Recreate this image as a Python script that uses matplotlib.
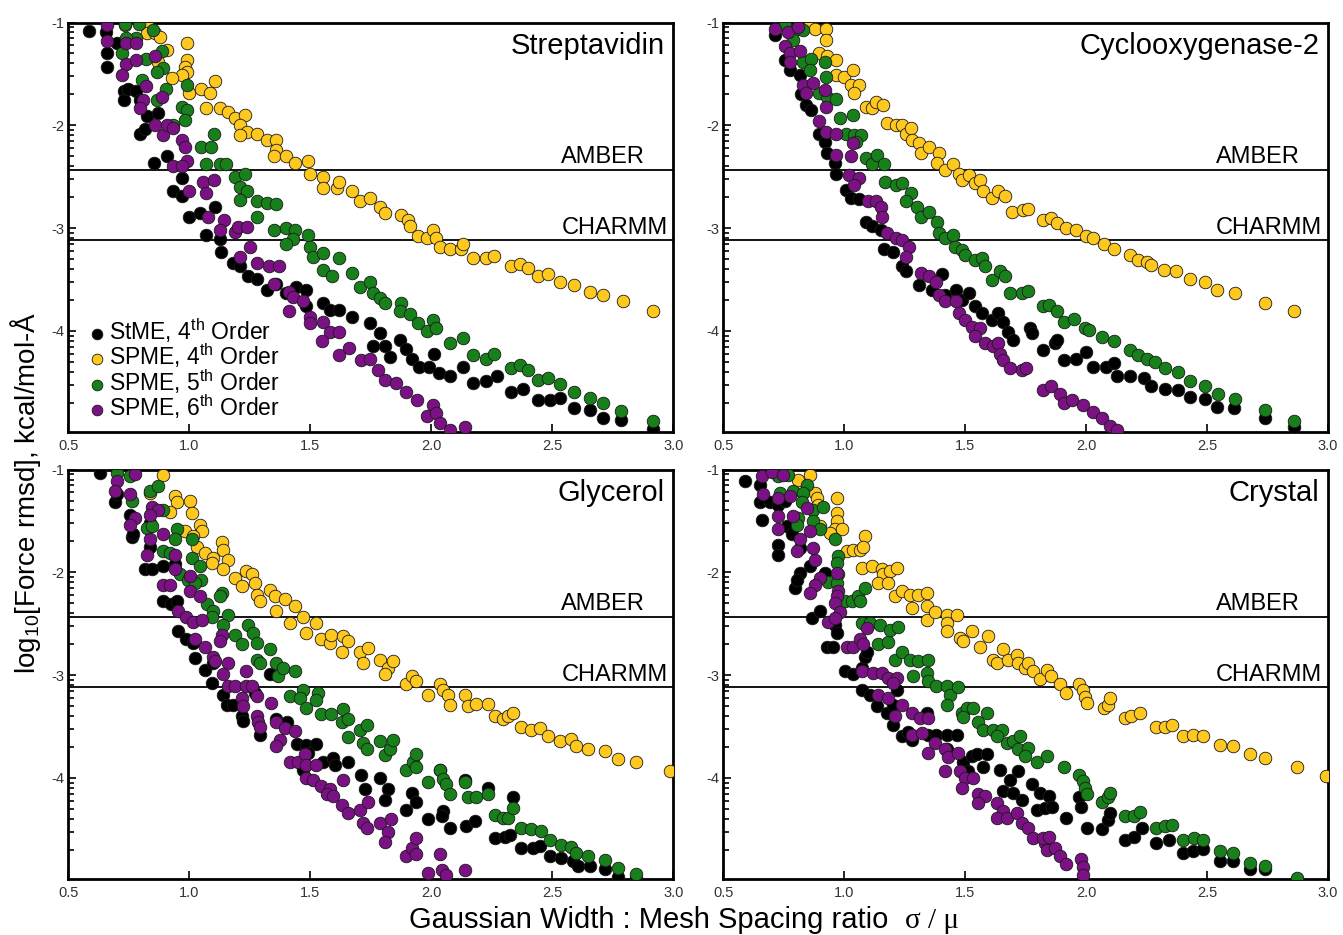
import numpy as np
import matplotlib
matplotlib.use('Agg')
import matplotlib.pyplot as plt
from matplotlib.ticker import FixedLocator

# Force rmsd (log10) against sigma/mesh ratio, four systems, four methods

plt.rcParams['font.family'] = 'Liberation Sans'
plt.rcParams['mathtext.fontset'] = 'custom'
plt.rcParams['mathtext.rm'] = 'Liberation Sans'
plt.rcParams['mathtext.it'] = 'Liberation Sans:italic'
plt.rcParams['mathtext.bf'] = 'Liberation Sans:bold'

systems = ['Streptavidin', 'Cyclooxygenase-2', 'Glycerol', 'Crystal']
methods = [r'StME, 4$^{\rm th}$ Order', r'SPME, 4$^{\rm th}$ Order',
           r'SPME, 5$^{\rm th}$ Order', r'SPME, 6$^{\rm th}$ Order']
colors = ['#000000', '#FFC81E', '#17801A', '#7C1185']

# force field tolerances, log10 kcal/mol-A
amber_level = -2.43
charmm_level = -3.12

x_ticks = [0.5, 1.0, 1.5, 2.0, 2.5, 3.0]
y_ticks = [-1, -2, -3, -4]

# ---- Streptavidin ----
strep_stme = [(0.587,-1.078),(0.656,-1.088),(0.661,-1.30),(0.658,-1.43),(0.70,-1.20),(0.73,-1.67),(0.728,-1.75),
    (0.745,-1.65),(0.78,-1.67),(0.796,-1.75),(0.823,-1.91),(0.796,-2.08),(0.816,-2.04),(0.872,-1.88),(0.854,-2.37),
    (0.906,-2.30),(0.933,-2.64),(0.968,-2.51),(0.968,-2.69),(1.0,-2.89),(1.044,-2.85),(1.07,-3.07),(1.105,-2.79),
    (1.126,-3.11),(1.13,-3.23),(1.18,-3.34),(1.21,-3.37),(1.243,-3.47),(1.28,-3.49),(1.32,-3.60),(1.36,-3.54),
    (1.40,-3.63),(1.44,-3.57),(1.484,-3.60),(1.484,-3.76),(1.553,-3.73),(1.58,-3.80),(1.62,-3.80),(1.67,-3.86),
    (1.745,-3.92),(1.787,-4.02),(1.76,-4.15),(1.81,-4.15),(1.83,-4.25),(1.87,-4.09),(1.897,-4.18),(1.92,-4.27),
    (1.95,-4.35),(1.99,-4.35),(2.01,-4.22),(2.03,-4.41),(2.076,-4.44),(2.13,-4.35),(2.17,-4.51),(2.227,-4.49),
    (2.27,-4.44),(2.33,-4.59),(2.38,-4.56),(2.44,-4.67),(2.49,-4.67),(2.53,-4.65),(2.59,-4.75),(2.654,-4.77),
    (2.71,-4.85),(2.785,-4.87),(2.915,-4.95)]
strep_spme4 = [(0.734,-1.02),(0.823,-1.02),(0.823,-1.10),(0.858,-1.10),(0.88,-1.14),(0.906,-1.27),(0.872,-1.38),
    (0.99,-1.20),(0.99,-1.36),(0.98,-1.43),(0.99,-1.48),(0.968,-1.51),(0.93,-1.54),(1.0,-1.69),(1.05,-1.65),
    (1.085,-1.69),(1.107,-1.57),(1.07,-1.83),(1.125,-1.83),(1.16,-1.87),(1.19,-1.93),(1.23,-1.90),(1.21,-2.00),
    (1.237,-2.06),(1.21,-2.09),(1.28,-2.08),(1.32,-2.14),(1.36,-2.14),(1.36,-2.24),(1.35,-2.30),(1.40,-2.30),
    (1.436,-2.37),(1.49,-2.35),(1.50,-2.47),(1.553,-2.50),(1.553,-2.61),(1.61,-2.61),(1.62,-2.55),(1.67,-2.64),
    (1.704,-2.74),(1.745,-2.71),(1.787,-2.79),(1.81,-2.85),(1.876,-2.87),(1.904,-2.92),(1.91,-2.98),(1.945,-3.08),
    (1.98,-3.10),(2.007,-3.02),(2.02,-3.10),(2.034,-3.18),(2.076,-3.20),(2.124,-3.20),(2.13,-3.15),(2.17,-3.29),
    (2.227,-3.29),(2.26,-3.27),(2.33,-3.37),(2.365,-3.35),(2.40,-3.39),(2.44,-3.47),(2.48,-3.45),(2.53,-3.52),
    (2.59,-3.55),(2.654,-3.62),(2.71,-3.65),(2.79,-3.71),(2.915,-3.81)]
strep_spme5 = [(0.734,-1.01),(0.79,-1.01),(0.85,-1.07),(0.78,-1.15),(0.74,-1.15),(0.72,-1.30),(0.82,-1.35),
    (0.886,-1.28),(0.89,-1.44),(0.865,-1.48),(0.803,-1.56),(0.905,-1.65),(0.865,-1.75),(0.99,-1.61),(0.97,-1.82),
    (0.99,-1.85),(0.983,-1.95),(0.934,-2.00),(1.10,-2.08),(1.05,-2.21),(1.09,-2.21),(1.07,-2.38),(1.126,-2.38),
    (1.15,-2.38),(1.19,-2.50),(1.23,-2.47),(1.21,-2.60),(1.24,-2.64),(1.21,-2.73),(1.28,-2.74),(1.32,-2.76),
    (1.36,-2.77),(1.28,-2.89),(1.35,-3.02),(1.40,-3.00),(1.436,-3.02),(1.49,-3.07),(1.50,-3.18),(1.43,-3.11),
    (1.40,-3.15),(1.51,-3.28),(1.553,-3.24),(1.553,-3.41),(1.59,-3.47),(1.62,-3.29),(1.67,-3.44),(1.704,-3.57),
    (1.745,-3.52),(1.76,-3.63),(1.787,-3.68),(1.81,-3.73),(1.876,-3.73),(1.87,-3.81),(1.91,-3.84),(1.945,-3.92),
    (1.98,-4.00),(2.007,-3.89),(2.02,-3.97),(2.076,-4.12),(2.13,-4.07),(2.17,-4.23),(2.227,-4.27),(2.26,-4.22),
    (2.33,-4.36),(2.365,-4.33),(2.40,-4.38),(2.44,-4.48),(2.48,-4.46),(2.53,-4.52),(2.59,-4.59),(2.654,-4.65),
    (2.71,-4.70),(2.785,-4.78),(2.915,-4.88)]
strep_spme6 = [(0.658,-1.02),(0.658,-1.18),(0.74,-1.20),(0.78,-1.20),(0.74,-1.40),(0.78,-1.36),(0.857,-1.33),
    (0.72,-1.51),(0.82,-1.62),(0.81,-1.75),(0.796,-1.83),(0.885,-1.72),(0.857,-2.00),(0.89,-2.09),(0.906,-2.00),
    (0.934,-2.03),(0.968,-2.14),(0.983,-2.21),(0.99,-2.35),(0.934,-2.40),(0.968,-2.40),(1.056,-2.55),(1.10,-2.53),
    (1.07,-2.66),(1.0,-2.64),(1.077,-2.89),(1.145,-2.92),(1.125,-3.02),(1.19,-3.04),(1.20,-2.99),(1.237,-2.99),
    (1.25,-3.18),(1.21,-3.28),(1.28,-3.34),(1.33,-3.37),(1.37,-3.37),(1.35,-3.54),(1.41,-3.62),(1.43,-3.67),
    (1.41,-3.81),(1.47,-3.71),(1.50,-3.86),(1.50,-3.92),(1.553,-3.91),(1.58,-4.01),(1.55,-4.10),(1.62,-4.01),
    (1.66,-4.17),(1.62,-4.23),(1.71,-4.28),(1.745,-4.27),(1.78,-4.38),(1.81,-4.48),(1.855,-4.51),(1.897,-4.59),
    (1.94,-4.67),(1.98,-4.83),(2.007,-4.72),(2.02,-4.80),(2.034,-4.90),(2.076,-4.96),(2.138,-4.93)]

# ---- Cyclooxygenase-2 ----
cox_stme = [(0.712,-1.12),(0.753,-1.36),(0.774,-1.46),(0.815,-1.51),(0.82,-1.70),(0.842,-1.80),(0.863,-1.85),
    (0.897,-2.08),(0.918,-2.16),(0.93,-2.27),(0.96,-2.37),(0.966,-2.47),(1.007,-2.63),(1.027,-2.71),(1.06,-2.72),
    (1.09,-2.94),(1.116,-2.98),(1.15,-3.02),(1.164,-3.20),(1.20,-3.23),(1.24,-3.37),(1.253,-3.42),(1.308,-3.55),
    (1.363,-3.60),(1.404,-3.45),(1.418,-3.65),(1.46,-3.60),(1.486,-3.70),(1.514,-3.63),(1.54,-3.76),(1.568,-3.83),
    (1.61,-3.89),(1.637,-3.83),(1.658,-3.91),(1.678,-4.01),(1.698,-4.09),(1.767,-3.97),(1.776,-4.02),(1.82,-4.19),
    (1.87,-4.12),(1.88,-4.09),(1.907,-4.28),(1.96,-4.27),(2.0,-4.20),(2.03,-4.35),(2.08,-4.35),(2.117,-4.31),
    (2.126,-4.44),(2.18,-4.44),(2.24,-4.46),(2.27,-4.54),(2.327,-4.56),(2.38,-4.57),(2.43,-4.64),(2.49,-4.66),
    (2.54,-4.74),(2.61,-4.75),(2.74,-4.85),(2.86,-4.93)]
cox_spme4 = [(0.856,-1.02),(0.877,-1.06),(0.925,-1.06),(0.925,-1.17),(0.897,-1.30),(0.93,-1.33),(0.966,-1.36),
    (0.966,-1.51),(1.0,-1.53),(1.034,-1.46),(1.027,-1.61),(1.06,-1.61),(1.04,-1.69),(1.09,-1.82),(1.116,-1.83),
    (1.13,-1.77),(1.158,-1.80),(1.178,-1.98),(1.212,-2.00),(1.24,-2.00),(1.253,-2.08),(1.274,-2.03),(1.28,-2.14),
    (1.308,-2.17),(1.315,-2.27),(1.35,-2.21),(1.39,-2.27),(1.384,-2.37),(1.418,-2.43),(1.45,-2.38),(1.473,-2.47),
    (1.486,-2.53),(1.514,-2.48),(1.54,-2.56),(1.56,-2.53),(1.575,-2.64),(1.61,-2.71),(1.637,-2.64),(1.664,-2.69),
    (1.692,-2.84),(1.74,-2.82),(1.76,-2.81),(1.82,-2.92),(1.855,-2.90),(1.88,-2.95),(1.916,-3.00),(1.96,-3.02),
    (2.0,-3.08),(2.03,-3.10),(2.073,-3.15),(2.117,-3.20),(2.18,-3.26),(2.213,-3.31),(2.25,-3.33),(2.27,-3.36),
    (2.32,-3.41),(2.37,-3.42),(2.43,-3.49),(2.49,-3.52),(2.54,-3.60),(2.615,-3.63),(2.74,-3.73),(2.86,-3.81)]
cox_spme5 = [(0.753,-1.02),(0.795,-1.07),(0.83,-1.07),(0.788,-1.17),(0.83,-1.38),(0.863,-1.35),(0.856,-1.46),
    (0.918,-1.38),(0.925,-1.53),(0.897,-1.69),(0.93,-1.72),(0.966,-1.74),(1.034,-1.90),(0.98,-1.93),(1.007,-2.08),
    (1.04,-2.09),(1.068,-2.09),(1.048,-2.16),(1.09,-2.32),(1.116,-2.38),(1.137,-2.29),(1.164,-2.38),(1.17,-2.55),
    (1.212,-2.58),(1.24,-2.56),(1.274,-2.66),(1.253,-2.74),(1.30,-2.79),(1.315,-2.89),(1.35,-2.84),(1.384,-2.94),
    (1.39,-3.05),(1.418,-3.10),(1.45,-3.07),(1.459,-3.18),(1.486,-3.21),(1.50,-3.26),(1.54,-3.31),(1.568,-3.29),
    (1.582,-3.37),(1.61,-3.50),(1.644,-3.42),(1.664,-3.47),(1.685,-3.63),(1.733,-3.63),(1.76,-3.61),(1.82,-3.76),
    (1.846,-3.75),(1.88,-3.81),(1.907,-3.91),(1.95,-3.88),(1.995,-3.97),(2.01,-3.99),(2.065,-4.06),(2.117,-4.10),
    (2.18,-4.19),(2.213,-4.23),(2.25,-4.27),(2.283,-4.30),(2.327,-4.36),(2.38,-4.40),(2.43,-4.49),(2.49,-4.54),
    (2.545,-4.61),(2.615,-4.66),(2.74,-4.77),(2.86,-4.88)]
cox_spme6 = [(0.712,-1.06),(0.767,-1.09),(0.808,-1.04),(0.753,-1.23),(0.774,-1.30),(0.774,-1.38),(0.815,-1.28),
    (0.83,-1.61),(0.87,-1.59),(0.842,-1.69),(0.918,-1.66),(0.925,-1.82),(0.897,-1.96),(0.925,-2.06),(0.966,-2.08),
    (1.034,-2.17),(1.027,-2.30),(0.966,-2.29),(1.02,-2.48),(1.06,-2.51),(1.04,-2.58),(1.096,-2.74),(1.13,-2.74),
    (1.15,-2.79),(1.157,-2.89),(1.178,-3.05),(1.212,-3.10),(1.24,-3.12),(1.267,-3.18),(1.253,-3.28),(1.315,-3.44),
    (1.35,-3.47),(1.377,-3.52),(1.39,-3.65),(1.418,-3.71),(1.46,-3.71),(1.473,-3.83),(1.50,-3.89),(1.527,-3.96),
    (1.56,-3.97),(1.54,-4.05),(1.582,-4.12),(1.616,-4.15),(1.637,-4.12),(1.644,-4.22),(1.658,-4.28),(1.685,-4.36),
    (1.733,-4.38),(1.753,-4.36),(1.82,-4.57),(1.855,-4.54),(1.89,-4.61),(1.907,-4.70),(1.94,-4.67),(1.985,-4.72),
    (2.03,-4.79),(2.065,-4.85),(2.10,-4.92),(2.126,-4.96)]

# ---- Glycerol ----
gly_stme = [(0.631,-1.03),(0.693,-1.32),(0.70,-1.24),(0.755,-1.44),(0.761,-1.66),(0.768,-1.63),(0.837,-1.52),
    (0.837,-1.75),(0.816,-1.97),(0.844,-1.97),(0.892,-1.94),(0.94,-1.92),(0.892,-2.28),(0.926,-2.31),(0.947,-2.28),
    (0.954,-2.57),(0.988,-2.65),(1.016,-2.69),(1.023,-2.83),(1.064,-2.95),(1.099,-2.88),(1.092,-3.08),(1.14,-3.19),
    (1.154,-3.29),(1.181,-3.29),(1.216,-3.40),(1.222,-3.45),(1.27,-3.17),(1.29,-3.58),(1.333,-2.99),(1.36,-3.43),
    (1.402,-3.46),(1.443,-3.67),(1.484,-3.68),(1.525,-3.67),(1.49,-3.76),(1.47,-3.92),(1.553,-3.84),(1.594,-3.81),
    (1.601,-3.87),(1.656,-3.84),(1.711,-3.97),(1.725,-4.11),(1.787,-4.00),(1.821,-4.11),(1.807,-4.21),(1.897,-4.31),
    (1.918,-4.15),(1.938,-4.23),(1.987,-4.40),(2.035,-3.92),(2.048,-4.32),(2.042,-4.37),(2.076,-4.49),(2.138,-4.02),
    (2.145,-4.47),(2.18,-4.42),(2.234,-4.10),(2.262,-4.58),(2.303,-4.57),(2.324,-4.55),(2.337,-4.19),(2.372,-4.68),
    (2.42,-4.68),(2.448,-4.66),(2.489,-4.76),(2.537,-4.78),(2.585,-4.81),(2.606,-4.86),(2.654,-4.86),(2.716,-4.89),
    (2.771,-4.96),(2.847,-4.97)]
gly_spme4 = [(0.892,-1.05),(0.837,-1.23),(0.94,-1.26),(0.947,-1.32),(1.002,-1.31),(1.009,-1.42),(0.92,-1.41),
    (1.044,-1.54),(1.051,-1.60),(0.982,-1.60),(1.016,-1.65),(1.03,-1.75),(1.064,-1.81),(1.099,-1.86),(1.092,-1.91),
    (1.133,-1.70),(1.14,-1.78),(1.16,-1.88),(1.14,-1.97),(1.188,-2.05),(1.216,-2.13),(1.236,-1.99),(1.257,-2.02),
    (1.27,-2.10),(1.278,-2.22),(1.291,-2.28),(1.333,-2.17),(1.353,-2.23),(1.395,-2.26),(1.436,-2.33),(1.36,-2.38),
    (1.415,-2.49),(1.47,-2.43),(1.484,-2.59),(1.525,-2.49),(1.546,-2.65),(1.58,-2.69),(1.587,-2.61),(1.636,-2.62),
    (1.656,-2.67),(1.629,-2.77),(1.704,-2.77),(1.739,-2.74),(1.718,-2.88),(1.787,-2.85),(1.821,-2.93),(1.807,-2.99),
    (1.842,-2.86),(1.897,-3.09),(1.918,-3.01),(1.938,-3.06),(1.987,-3.19),(2.035,-3.09),(2.048,-3.14),(2.069,-3.19),
    (2.076,-3.29),(2.138,-3.19),(2.152,-3.30),(2.186,-3.28),(2.234,-3.28),(2.262,-3.40),(2.296,-3.43),(2.317,-3.40),
    (2.337,-3.37),(2.372,-3.50),(2.413,-3.53),(2.448,-3.51),(2.482,-3.59),(2.53,-3.64),(2.578,-3.62),(2.599,-3.69),
    (2.647,-3.72),(2.716,-3.74),(2.771,-3.82),(2.847,-3.84),(2.984,-3.93)]
gly_spme5 = [(0.70,-1.03),(0.755,-1.06),(0.837,-1.21),(0.872,-1.16),(0.761,-1.31),(0.892,-1.39),(0.823,-1.57),
    (0.844,-1.55),(0.947,-1.58),(0.94,-1.68),(0.892,-1.79),(0.92,-1.81),(1.009,-1.68),(1.009,-1.86),(1.044,-1.94),
    (0.96,-2.02),(0.995,-2.07),(1.05,-2.07),(1.023,-2.10),(1.071,-2.31),(1.099,-2.38),(1.092,-2.43),(1.133,-2.20),
    (1.126,-2.23),(1.16,-2.41),(1.14,-2.51),(1.188,-2.61),(1.216,-2.70),(1.243,-2.51),(1.264,-2.59),(1.278,-2.69),
    (1.278,-2.85),(1.291,-2.88),(1.333,-2.75),(1.36,-2.88),(1.367,-3.01),(1.388,-2.93),(1.436,-2.96),(1.415,-3.20),
    (1.47,-3.14),(1.457,-3.22),(1.484,-3.32),(1.532,-3.17),(1.525,-3.24),(1.546,-3.38),(1.587,-3.38),(1.636,-3.33),
    (1.629,-3.46),(1.656,-3.43),(1.656,-3.60),(1.704,-3.53),(1.732,-3.48),(1.718,-3.66),(1.732,-3.72),(1.787,-3.64),
    (1.807,-3.78),(1.828,-3.72),(1.842,-3.63),(1.897,-3.92),(1.925,-3.84),(1.938,-3.77),(1.938,-3.89),(1.987,-4.04),
    (2.035,-3.92),(2.048,-4.01),(2.062,-4.06),(2.076,-4.16),(2.138,-4.04),(2.152,-4.19),(2.186,-4.19),(2.234,-4.16),
    (2.262,-4.36),(2.296,-4.39),(2.317,-4.39),(2.337,-4.29),(2.372,-4.49),(2.413,-4.50),(2.455,-4.52),(2.489,-4.60),
    (2.537,-4.65),(2.578,-4.67),(2.599,-4.73),(2.647,-4.76),(2.716,-4.80),(2.771,-4.88),(2.847,-4.93)]
gly_spme6 = [(0.775,-1.04),(0.70,-1.11),(0.693,-1.21),(0.755,-1.24),(0.775,-1.47),(0.755,-1.54),(0.844,-1.36),
    (0.872,-1.39),(0.837,-1.44),(0.837,-1.68),(0.892,-1.63),(0.823,-1.83),(0.94,-1.83),(0.94,-1.97),(1.002,-2.04),
    (0.892,-2.12),(0.92,-2.12),(1.002,-2.18),(1.044,-2.23),(0.954,-2.38),(0.988,-2.43),(1.016,-2.48),(1.051,-2.46),
    (1.023,-2.65),(1.064,-2.73),(1.133,-2.61),(1.126,-2.67),(1.099,-2.82),(1.106,-2.86),(1.16,-2.88),(1.14,-2.99),
    (1.16,-3.11),(1.188,-3.11),(1.236,-2.96),(1.236,-3.11),(1.257,-3.11),(1.216,-3.22),(1.222,-3.30),(1.278,-3.20),
    (1.278,-3.40),(1.284,-3.46),(1.291,-3.50),(1.339,-3.27),(1.36,-3.46),(1.395,-3.51),(1.436,-3.54),(1.374,-3.63),
    (1.36,-3.69),(1.415,-3.84),(1.449,-3.84),(1.477,-3.77),(1.484,-3.87),(1.525,-3.87),(1.484,-4.00),(1.512,-4.02),
    (1.546,-4.08),(1.58,-4.11),(1.567,-4.16),(1.636,-4.02),(1.594,-4.18),(1.629,-4.26),(1.656,-4.34),(1.704,-4.31),
    (1.739,-4.23),(1.718,-4.44),(1.732,-4.49),(1.787,-4.44),(1.835,-4.40),(1.821,-4.53),(1.807,-4.62),(1.897,-4.76),
    (1.918,-4.68),(1.938,-4.58),(1.938,-4.74),(1.987,-4.92),(2.035,-4.74),(2.042,-4.90),(2.062,-4.94),(2.138,-4.90)]

# ---- Crystal ----
cry_stme = [(0.589,-1.11),(0.651,-1.15),(0.651,-1.32),(0.658,-1.49),(0.692,-1.32),(0.727,-1.34),(0.754,-1.31),
    (0.761,-1.55),(0.727,-1.73),(0.727,-1.83),(0.782,-1.63),(0.816,-1.76),(0.858,-1.94),(0.816,-2.01),(0.796,-2.15),
    (0.803,-2.07),(0.92,-2.01),(0.865,-2.44),(0.899,-2.38),(0.961,-2.51),(0.968,-2.59),(0.927,-2.73),(0.954,-2.73),
    (1.002,-2.96),(1.037,-2.99),(1.071,-2.93),(1.085,-2.82),(1.092,-2.77),(1.071,-3.14),(1.106,-3.19),(1.133,-3.30),
    (1.175,-3.37),(1.202,-3.29),(1.216,-3.14),(1.202,-3.48),(1.237,-3.59),(1.264,-3.55),(1.278,-3.63),(1.34,-3.37),
    (1.347,-3.58),(1.381,-3.58),(1.423,-3.58),(1.464,-3.58),(1.423,-3.72),(1.492,-3.84),(1.527,-3.79),(1.547,-3.77),
    (1.588,-3.77),(1.575,-3.89),(1.513,-3.93),(1.643,-3.92),(1.685,-4.02),(1.719,-3.93),(1.657,-4.13),(1.699,-4.15),
    (1.733,-4.21),(1.774,-4.06),(1.809,-4.15),(1.795,-4.31),(1.83,-4.29),(1.846,-4.18),(1.86,-4.28),(1.916,-4.39),
    (1.97,-4.19),(1.977,-4.28),(2.003,-4.49),(2.065,-4.50),(2.09,-4.41),(2.10,-4.34),(2.16,-4.60),(2.196,-4.57),
    (2.23,-4.49),(2.29,-4.63),(2.344,-4.60),(2.40,-4.73),(2.44,-4.71),(2.484,-4.69),(2.554,-4.81),(2.607,-4.81),
    (2.677,-4.89),(2.74,-4.89),(2.87,-4.99)]
cry_spme4 = [(0.809,-1.10),(0.858,-1.05),(0.878,-1.23),(0.885,-1.28),(0.892,-1.34),(0.968,-1.28),(0.968,-1.42),
    (0.968,-1.50),(0.961,-1.58),(0.940,-1.62),(0.899,-1.55),(0.989,-1.58),(1.009,-1.79),(1.037,-1.78),(1.064,-1.78),
    (1.085,-1.65),(1.078,-1.75),(1.071,-1.96),(1.113,-1.94),(1.154,-1.97),(1.161,-2.02),(1.189,-1.99),(1.216,-1.96),
    (1.14,-2.10),(1.182,-2.10),(1.209,-2.23),(1.237,-2.18),(1.271,-2.22),(1.306,-2.22),(1.34,-2.20),(1.278,-2.35),
    (1.34,-2.33),(1.34,-2.46),(1.375,-2.39),(1.423,-2.41),(1.423,-2.49),(1.423,-2.57),(1.464,-2.41),(1.478,-2.64),
    (1.492,-2.67),(1.527,-2.57),(1.561,-2.73),(1.595,-2.62),(1.616,-2.85),(1.63,-2.88),(1.657,-2.75),(1.678,-2.85),
    (1.712,-2.80),(1.719,-2.88),(1.747,-2.93),(1.761,-2.88),(1.782,-2.96),(1.809,-3.04),(1.837,-2.95),(1.855,-3.01),
    (1.89,-3.09),(1.916,-3.17),(1.97,-3.09),(1.986,-3.14),(1.995,-3.21),(2.003,-3.27),(2.073,-3.32),(2.09,-3.29),
    (2.10,-3.22),(2.16,-3.42),(2.187,-3.40),(2.222,-3.37),(2.29,-3.50),(2.327,-3.50),(2.353,-3.48),(2.40,-3.59),
    (2.44,-3.58),(2.484,-3.59),(2.554,-3.68),(2.607,-3.69),(2.677,-3.77),(2.74,-3.81),(2.87,-3.89),(2.99,-3.98)]
cry_spme5 = [(0.727,-1.06),(0.768,-1.05),(0.734,-1.23),(0.789,-1.21),(0.844,-1.15),(0.83,-1.23),(0.823,-1.32),
    (0.809,-1.47),(0.803,-1.54),(0.871,-1.39),(0.913,-1.36),(0.871,-1.50),(0.899,-1.58),(0.961,-1.68),(0.975,-1.84),
    (0.968,-1.91),(0.975,-2.02),(0.934,-2.09),(0.968,-2.10),(1.002,-2.28),(1.03,-2.28),(1.058,-2.23),(1.064,-2.28),
    (1.085,-2.15),(1.071,-2.49),(1.106,-2.49),(1.14,-2.70),(1.182,-2.68),(1.147,-2.51),(1.189,-2.56),(1.223,-2.53),
    (1.209,-2.85),(1.237,-2.77),(1.271,-2.85),(1.285,-3.01),(1.306,-2.86),(1.347,-2.85),(1.34,-2.98),(1.347,-3.06),
    (1.381,-3.11),(1.423,-3.11),(1.437,-3.19),(1.471,-3.12),(1.423,-3.29),(1.485,-3.37),(1.506,-3.32),(1.533,-3.32),
    (1.492,-3.41),(1.554,-3.46),(1.588,-3.37),(1.575,-3.53),(1.616,-3.53),(1.65,-3.53),(1.63,-3.59),(1.671,-3.66),
    (1.699,-3.64),(1.726,-3.59),(1.719,-3.72),(1.761,-3.71),(1.747,-3.79),(1.795,-3.84),(1.837,-3.79),(1.907,-3.89),
    (1.97,-3.97),(1.986,-4.03),(1.995,-4.10),(2.003,-4.16),(2.065,-4.23),(2.09,-4.19),(2.10,-4.15),(2.16,-4.37),
    (2.196,-4.37),(2.222,-4.33),(2.29,-4.49),(2.327,-4.47),(2.353,-4.46),(2.40,-4.60),(2.448,-4.58),(2.484,-4.60),
    (2.554,-4.71),(2.607,-4.73),(2.677,-4.83),(2.74,-4.86),(2.87,-4.97)]
cry_spme6 = [(0.658,-1.06),(0.699,-1.02),(0.748,-1.05),(0.665,-1.24),(0.727,-1.28),(0.775,-1.26),(0.727,-1.45),
    (0.727,-1.58),(0.789,-1.45),(0.844,-1.37),(0.858,-1.60),(0.816,-1.68),(0.803,-1.79),(0.871,-1.76),(0.878,-1.88),
    (0.899,-2.05),(0.878,-2.12),(0.858,-2.20),(0.968,-2.01),(0.975,-2.18),(0.968,-2.23),(0.961,-2.30),(0.982,-2.39),
    (0.934,-2.48),(0.961,-2.44),(1.009,-2.73),(1.037,-2.73),(1.064,-2.65),(1.078,-2.70),(1.092,-2.54),(1.071,-2.96),
    (1.12,-2.98),(1.154,-2.98),(1.182,-3.03),(1.216,-3.03),(1.202,-3.08),(1.14,-3.19),(1.182,-3.22),(1.237,-3.29),
    (1.209,-3.40),(1.278,-3.37),(1.312,-3.42),(1.347,-3.42),(1.278,-3.58),(1.319,-3.56),(1.375,-3.66),(1.347,-3.76),
    (1.416,-3.72),(1.43,-3.80),(1.471,-3.76),(1.416,-3.93),(1.478,-3.93),(1.499,-4.00),(1.533,-4.00),(1.485,-4.10),
    (1.554,-4.16),(1.581,-4.18),(1.554,-4.24),(1.63,-4.24),(1.657,-4.32),(1.63,-4.39),(1.671,-4.39),(1.712,-4.34),
    (1.733,-4.44),(1.761,-4.49),(1.782,-4.58),(1.83,-4.63),(1.837,-4.70),(1.823,-4.58),(1.846,-4.57),(1.872,-4.68),
    (1.89,-4.76),(1.916,-4.84),(1.977,-4.79),(1.986,-4.87),(1.986,-4.94)]

panel_data = [
    [strep_stme, strep_spme4, strep_spme5, strep_spme6],
    [cox_stme, cox_spme4, cox_spme5, cox_spme6],
    [gly_stme, gly_spme4, gly_spme5, gly_spme6],
    [cry_stme, cry_spme4, cry_spme5, cry_spme6],
]

# minor ticks on the log10 axis sit at log10(k * 10^n)
minor_y = [np.log10(k * 10.0 ** n) for n in range(-5, -1) for k in range(2, 10)]
minor_y = [v for v in minor_y if -4.98 < v < -1.0]


def draw_panel(ax, title, series, show_legend=False):
    for pts, col, lab in zip(series, colors, methods):
        pts = np.array(pts)
        ax.scatter(pts[:, 0], pts[:, 1], s=82, c=col, edgecolors='#1a1a1a',
                   linewidths=0.6, label=lab, zorder=3)

    ax.axhline(amber_level, color='black', lw=1.3, zorder=2)
    ax.axhline(charmm_level, color='black', lw=1.3, zorder=2)
    ax.text(0.815, amber_level + 0.06, 'AMBER', transform=ax.get_yaxis_transform(),
            ha='left', va='baseline', fontsize=17)
    ax.text(0.815, charmm_level + 0.06, 'CHARMM', transform=ax.get_yaxis_transform(),
            ha='left', va='baseline', fontsize=17)
    ax.text(0.986, 0.923, title, transform=ax.transAxes, ha='right',
            va='baseline', fontsize=21)

    ax.set_xlim(0.5, 3.0)
    ax.set_ylim(-4.98, -1.0)
    ax.set_xticks(x_ticks, ['%.1f' % v for v in x_ticks])
    ax.set_yticks(y_ticks, ['%d' % v for v in y_ticks])
    ax.yaxis.set_minor_locator(FixedLocator(minor_y))
    ax.tick_params(axis='both', which='both', direction='in', colors='black',
                   labelcolor='#333333', labelsize=10.5, width=1.2)
    ax.tick_params(axis='x', which='major', length=6, pad=5)
    ax.tick_params(axis='y', which='major', length=6, pad=3)
    ax.tick_params(axis='y', which='minor', length=4)
    ax.tick_params(top=False, right=False)
    for sp in ax.spines.values():
        sp.set_linewidth(2.0)

    if show_legend:
        ax.legend(loc='upper left', bbox_to_anchor=(0.032, 0.282), frameon=False,
                  fontsize=16.5, handletextpad=0.15, handlelength=0.8,
                  labelspacing=-0.14, borderpad=0, borderaxespad=0,
                  scatterpoints=1, markerscale=0.85)


fig = plt.figure(figsize=(13.43, 9.35), dpi=100)

# axes boxes: left, bottom, width, height
boxes = [
    (0.0509, 0.5383, 0.4505, 0.4376),
    (0.5387, 0.5383, 0.4501, 0.4376),
    (0.0509, 0.0602, 0.4505, 0.4376),
    (0.5387, 0.0602, 0.4501, 0.4376),
]

for i, (box, name, series) in enumerate(zip(boxes, systems, panel_data)):
    ax = fig.add_axes(box)
    draw_panel(ax, name, series, show_legend=(i == 0))

fig.text(0.019, 0.473, r'log$_{10}$[Force rmsd], kcal/mol-Å', rotation=90,
         ha='center', va='center', fontsize=20)
fig.text(888 / 1343, 0.008, 'Gaussian Width : Mesh Spacing ratio', ha='right',
         va='baseline', fontsize=21)
fig.text(905 / 1343, 0.008, 'σ / μ', ha='left', va='baseline', fontsize=21,
         family='Liberation Serif')

fig.savefig('out.png', dpi=100)
